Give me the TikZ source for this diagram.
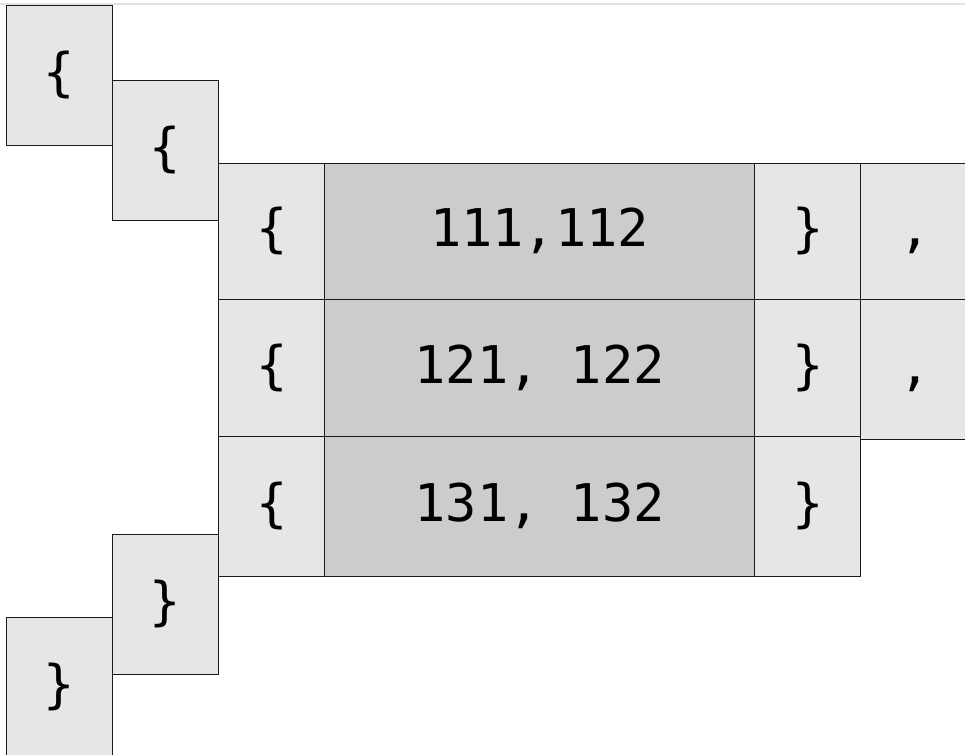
\documentclass[tikz,border=0pt]{standalone}
\usepackage{fontspec}
\newfontfamily\codefont{DejaVu Sans Mono}[Scale=1]
\definecolor{lightcell}{HTML}{E6E6E6}
\definecolor{darkcell}{HTML}{CCCCCC}
\definecolor{edgecol}{HTML}{1A1A1A}
\definecolor{topline}{HTML}{E2E2E2}
\tikzset{
  cell/.style={draw=edgecol, line width=1.3pt, fill=lightcell, anchor=north west,
    inner sep=0pt, text height=40pt, text depth=10pt,
    font=\codefont\fontsize{52pt}{52pt}\selectfont},
  darkc/.style={cell, fill=darkcell},
}
\begin{document}
\begin{tikzpicture}
\useasboundingbox (0,0) rectangle (965pt,-754pt);
\clip (0,0) rectangle (965pt,-754pt);
\fill[white] (0,0) rectangle (965pt,-754pt);
\draw[topline, line width=2pt] (0,-4.5pt) -- (965pt,-4.5pt);
% outer opening braces
\node[cell, minimum width=106pt, minimum height=140pt] (oa) at (6pt,-5pt) {\{};
\node[cell, minimum width=106pt, minimum height=140pt] (ob) at (112pt,-80pt) {\{};
% row 1
\node[cell, minimum width=106pt, minimum height=136pt] (r1l) at (218pt,-163pt) {\{};
\node[darkc, minimum width=430pt, minimum height=136pt] (r1m) at (324pt,-163pt) {111,112};
\node[cell, minimum width=106pt, minimum height=136pt] (r1r) at (754pt,-163pt) {\}};
\node[cell, minimum width=108pt, minimum height=136pt] (r1c) at (860pt,-163pt) {,};
% row 2
\node[cell, minimum width=106pt, minimum height=137pt] (r2l) at (218pt,-299pt) {\{};
\node[darkc, minimum width=430pt, minimum height=137pt] (r2m) at (324pt,-299pt) {121, 122};
\node[cell, minimum width=106pt, minimum height=137pt] (r2r) at (754pt,-299pt) {\}};
\node[cell, minimum width=108pt, minimum height=140pt] (r2c) at (860pt,-299pt) {,};
% row 3
\node[cell, minimum width=106pt, minimum height=140pt] (r3l) at (218pt,-436pt) {\{};
\node[darkc, minimum width=430pt, minimum height=140pt] (r3m) at (324pt,-436pt) {131, 132};
\node[cell, minimum width=106pt, minimum height=140pt] (r3r) at (754pt,-436pt) {\}};
% outer closing braces
\node[cell, minimum width=106pt, minimum height=140pt] (cb) at (112pt,-534pt) {\}};
\node[cell, minimum width=106pt, minimum height=140pt] (ca) at (6pt,-617pt) {\}};
\end{tikzpicture}
\end{document}
